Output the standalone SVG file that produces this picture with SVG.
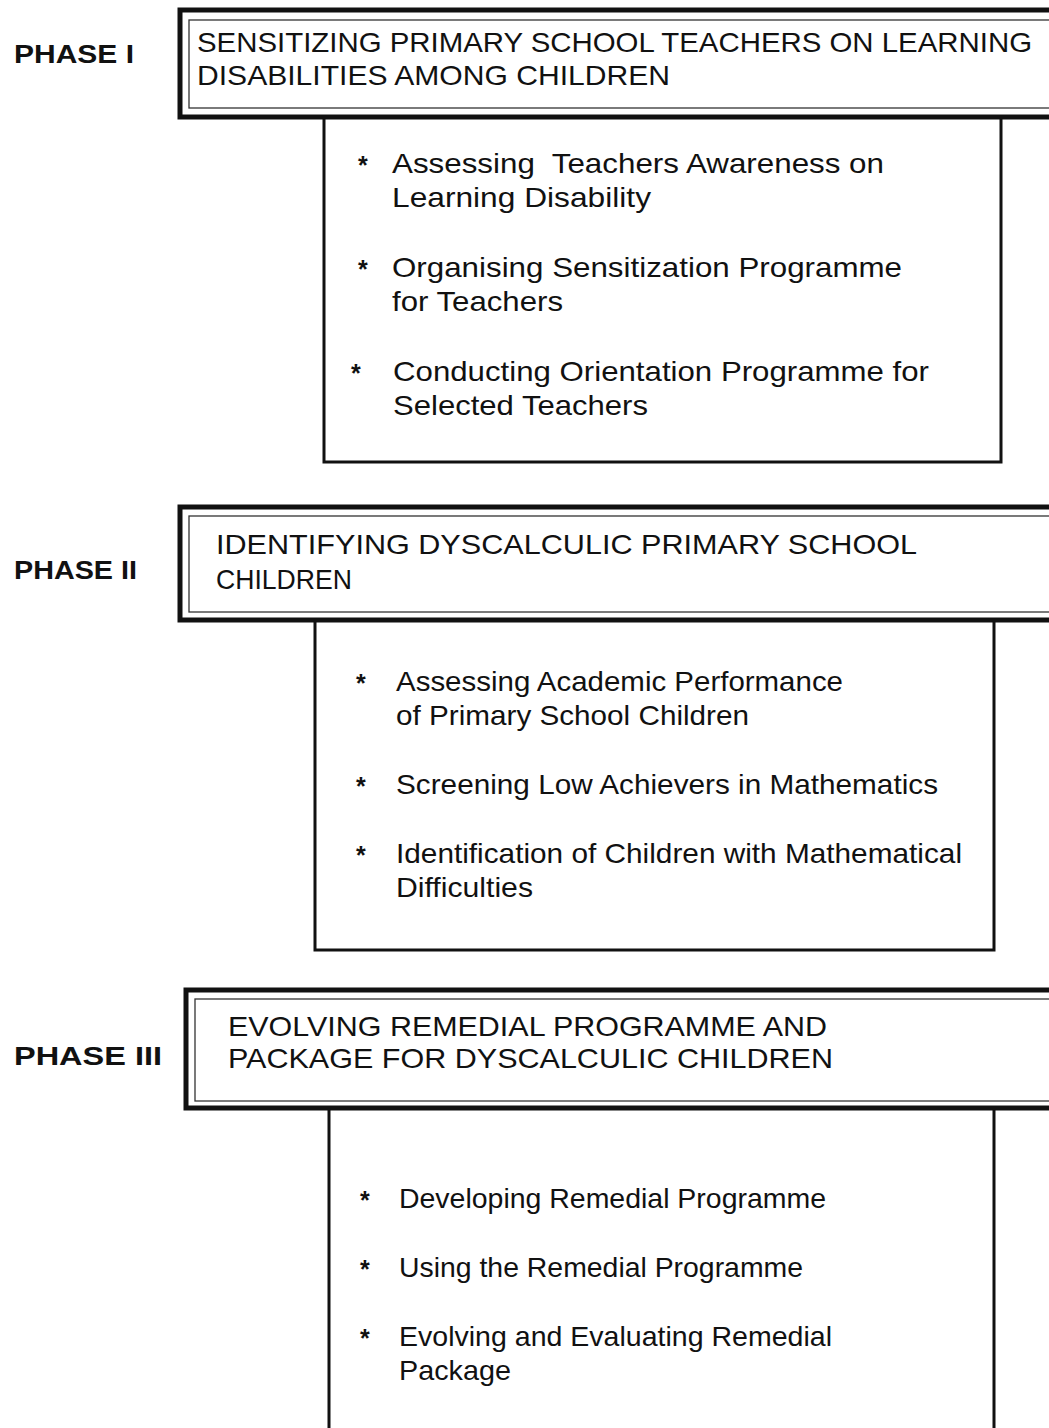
<svg xmlns="http://www.w3.org/2000/svg" width="1049" height="1428" viewBox="0 0 1049 1428">
<style>
.phase{font-family:"Liberation Sans",Arial,sans-serif;font-weight:bold;font-size:25px;fill:#111}
.hd{font-family:"Liberation Sans",Arial,sans-serif;font-size:28px;fill:#111}
.bd{font-family:"Liberation Sans",Arial,sans-serif;font-size:28px;fill:#111}
.star{font-family:"Liberation Sans",Arial,sans-serif;font-weight:bold;font-size:25px;fill:#111}
.outer{fill:none;stroke:#111;stroke-width:5}
.inner{fill:none;stroke:#333;stroke-width:1.3}
.body{fill:none;stroke:#111;stroke-width:3}
</style>
<rect width="1049" height="1428" fill="#fff"/>
<g id="phase1">
  <text class="phase" x="14" y="63" textLength="120" lengthAdjust="spacingAndGlyphs">PHASE I</text>
  <rect class="outer" x="180" y="10" width="873" height="107"/>
  <rect class="inner" x="189" y="20" width="866" height="88"/>
  <text class="hd" x="197" y="52" textLength="835" lengthAdjust="spacingAndGlyphs">SENSITIZING PRIMARY SCHOOL TEACHERS ON LEARNING</text>
  <text class="hd" x="197" y="85" textLength="473" lengthAdjust="spacingAndGlyphs">DISABILITIES AMONG CHILDREN</text>
</g>
<g id="phase1-body">
  <path class="body" d="M324 118 V462 H1001 V118"/>
  <text class="star" x="358" y="174">*</text>
  <text class="bd" x="392" y="173" textLength="492" lengthAdjust="spacingAndGlyphs" xml:space="preserve">Assessing  Teachers Awareness on</text>
  <text class="bd" x="392" y="207" textLength="259" lengthAdjust="spacingAndGlyphs">Learning Disability</text>
  <text class="star" x="358" y="278">*</text>
  <text class="bd" x="392" y="277" textLength="510" lengthAdjust="spacingAndGlyphs">Organising Sensitization Programme</text>
  <text class="bd" x="392" y="311" textLength="171" lengthAdjust="spacingAndGlyphs">for Teachers</text>
  <text class="star" x="351" y="382">*</text>
  <text class="bd" x="393" y="381" textLength="536" lengthAdjust="spacingAndGlyphs">Conducting Orientation Programme for</text>
  <text class="bd" x="393" y="415" textLength="255" lengthAdjust="spacingAndGlyphs">Selected Teachers</text>
</g>
<g id="phase2">
  <text class="phase" x="14" y="579" textLength="123" lengthAdjust="spacingAndGlyphs">PHASE II</text>
  <rect class="outer" x="180" y="507" width="873" height="113"/>
  <rect class="inner" x="189" y="516" width="866" height="96"/>
  <text class="hd" x="216" y="554" textLength="701" lengthAdjust="spacingAndGlyphs">IDENTIFYING DYSCALCULIC PRIMARY SCHOOL</text>
  <text class="hd" x="216" y="589" textLength="136" lengthAdjust="spacingAndGlyphs">CHILDREN</text>
</g>
<g id="phase2-body">
  <path class="body" d="M315 621 V950 H994 V621"/>
  <text class="star" x="356" y="692">*</text>
  <text class="bd" x="396" y="691" textLength="447" lengthAdjust="spacingAndGlyphs">Assessing Academic Performance</text>
  <text class="bd" x="396" y="725" textLength="353" lengthAdjust="spacingAndGlyphs">of Primary School Children</text>
  <text class="star" x="356" y="795">*</text>
  <text class="bd" x="396" y="794" textLength="542" lengthAdjust="spacingAndGlyphs">Screening Low Achievers in Mathematics</text>
  <text class="star" x="356" y="864">*</text>
  <text class="bd" x="396" y="863" textLength="566" lengthAdjust="spacingAndGlyphs">Identification of Children with Mathematical</text>
  <text class="bd" x="396" y="897" textLength="137" lengthAdjust="spacingAndGlyphs">Difficulties</text>
</g>
<g id="phase3">
  <text class="phase" x="14" y="1065" textLength="148" lengthAdjust="spacingAndGlyphs">PHASE III</text>
  <rect class="outer" x="186" y="990" width="867" height="118"/>
  <rect class="inner" x="195" y="999" width="860" height="102"/>
  <text class="hd" x="228" y="1036" textLength="599" lengthAdjust="spacingAndGlyphs">EVOLVING REMEDIAL PROGRAMME AND</text>
  <text class="hd" x="228" y="1068" textLength="605" lengthAdjust="spacingAndGlyphs">PACKAGE FOR DYSCALCULIC CHILDREN</text>
</g>
<g id="phase3-body">
  <path class="body" d="M329 1109 V1430 M994 1109 V1430"/>
  <text class="star" x="360" y="1209">*</text>
  <text class="bd" x="399" y="1208" textLength="427" lengthAdjust="spacingAndGlyphs">Developing Remedial Programme</text>
  <text class="star" x="360" y="1278">*</text>
  <text class="bd" x="399" y="1277" textLength="404" lengthAdjust="spacingAndGlyphs">Using the Remedial Programme</text>
  <text class="star" x="360" y="1347">*</text>
  <text class="bd" x="399" y="1346" textLength="433" lengthAdjust="spacingAndGlyphs">Evolving and Evaluating Remedial</text>
  <text class="bd" x="399" y="1380" textLength="112" lengthAdjust="spacingAndGlyphs">Package</text>
</g>
<g id="connectors"></g>
</svg>
